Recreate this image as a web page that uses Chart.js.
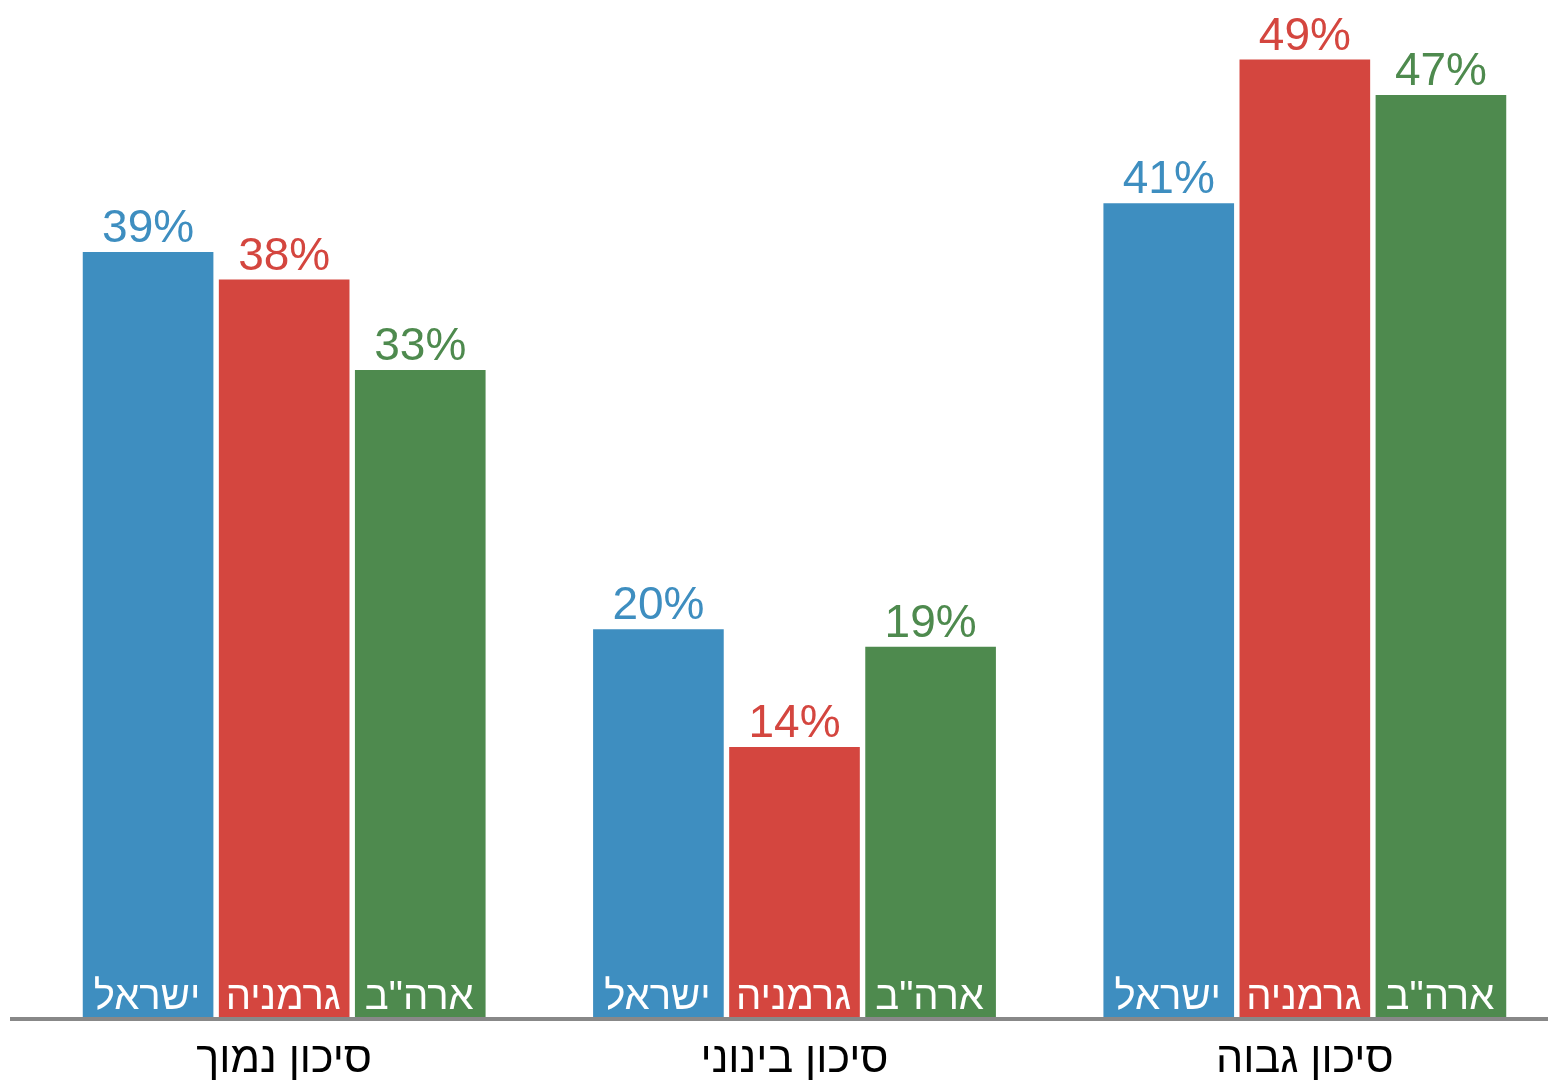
<!DOCTYPE html>
<html lang="he">
<head>
<meta charset="utf-8">
<script src="https://cdn.jsdelivr.net/npm/chart.js@4/dist/chart.umd.min.js"></script>
<style>
  html, body { margin: 0; padding: 0; background: #fff; overflow: hidden; }
  #wrap { width: 1560px; height: 1081px; position: relative; }
</style>
</head>
<body>
<div id="wrap"><canvas id="risk-chart"></canvas></div>
<script>
// categories (risk levels) and the three countries
const categories = ['סיכון נמוך', 'סיכון בינוני', 'סיכון גבוה'];
const seriesNames = ['ישראל', 'גרמניה', 'ארה"ב'];
const israel  = [39.0, 19.8, 41.49];
const germany = [37.6, 13.8, 48.8];
const usa     = [33.0, 18.9, 47.0];
const seriesColors = ['#3e8ec0', '#d4463f', '#4e8a4e'];

const FONT = "'Liberation Sans', Arial, sans-serif";

// labels above the bars + country names inside, plus the grey base line
const barLabels = {
  id: 'barLabels',
  afterDatasetsDraw(chart) {
    const ctx = chart.ctx;
    ctx.save();
    ctx.textAlign = 'center';
    ctx.textBaseline = 'alphabetic';
    chart.data.datasets.forEach((ds, i) => {
      const meta = chart.getDatasetMeta(i);
      meta.data.forEach((bar, j) => {
        ctx.fillStyle = ds.backgroundColor;
        ctx.font = '46px ' + FONT;
        ctx.fillText(Math.round(ds.data[j]) + '%', bar.x, bar.y - 10);
        ctx.fillStyle = '#ffffff';
        ctx.font = '40px ' + FONT;
        ctx.fillText(ds.label, bar.x - 1, bar.base - 9);
      });
    });
    ctx.strokeStyle = '#888888';
    ctx.lineWidth = 4;
    ctx.beginPath();
    ctx.moveTo(10, chart.chartArea.bottom + 1);
    ctx.lineTo(chart.width, chart.chartArea.bottom + 1);
    ctx.stroke();
    ctx.restore();
  }
};

const data = {
  labels: categories,
  datasets: [israel, germany, usa].map((vals, i) => ({
    label: seriesNames[i],
    data: vals,
    backgroundColor: seriesColors[i],
    categoryPercentage: 0.8,
    barPercentage: 0.96
  }))
};

const config = {
  type: 'bar',
  data: data,
  options: {
    responsive: true,
    maintainAspectRatio: false,
    animation: false,
    layout: { padding: { top: 36, left: 29, right: 0, bottom: 0 } },
    plugins: { legend: { display: false }, tooltip: { enabled: false } },
    scales: {
      x: {
        grid: { display: false, drawTicks: false },
        border: { display: false },
        ticks: { color: '#000', font: { size: 43, family: FONT }, padding: 16 },
        afterFit(scale) { scale.height = 63; }
      },
      y: { display: false, min: 0, max: 50 }
    }
  },
  plugins: [barLabels]
};

new Chart(document.getElementById('risk-chart').getContext('2d'), config);
</script>
</body>
</html>
